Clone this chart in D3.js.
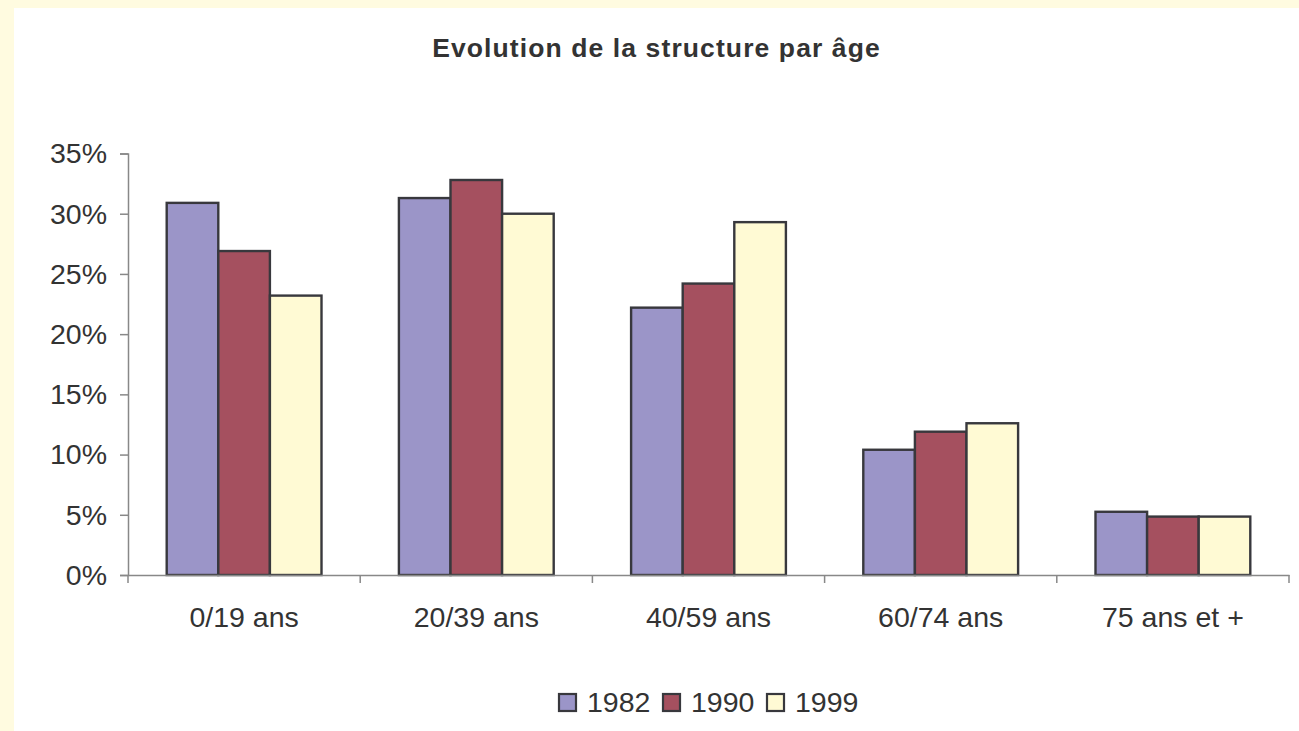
<!DOCTYPE html>
<html><head><meta charset="utf-8">
<script src="https://cdn.jsdelivr.net/npm/d3@7"></script>
<style>
html,body{margin:0;padding:0;background:#fffbe0;}
svg{display:block;}
</style></head><body>
<script>
const categories = ["0/19 ans", "20/39 ans", "40/59 ans", "60/74 ans", "75 ans et +"];
const seriesNames = ["1982", "1990", "1999"];
const values1982 = [30.9, 31.3, 22.2, 10.4, 5.25];
const values1990 = [26.9, 32.8, 24.2, 11.9, 4.85];
const values1999 = [23.2, 30.0, 29.3, 12.6, 4.85];
const yTicks = [0, 5, 10, 15, 20, 25, 30, 35];
const colors = ["#9b95c8", "#a5505f", "#fffad4"];

const W = 1299, H = 731;
const svg = d3.select("body").append("svg").attr("width", W).attr("height", H);
svg.append("rect").attr("x", 0).attr("y", 0).attr("width", W).attr("height", H).attr("fill", "#fffbe0");
svg.append("rect").attr("x", 14).attr("y", 8).attr("width", W - 14).attr("height", H - 8).attr("fill", "#ffffff");

const m = {left: 128, right: 1289, top: 153.5, bottom: 575};
const x = d3.scaleBand().domain(categories).range([m.left, m.right]).paddingInner(0).paddingOuter(0);
const y = d3.scaleLinear().domain([0, 35]).range([m.bottom, m.top]);
const series = [values1982, values1990, values1999];
const x1 = d3.scaleBand().domain(seriesNames).range([0, x.bandwidth()]).paddingInner(0).paddingOuter(0.75);

const font = "'Liberation Sans', Arial, sans-serif";
const txt = "#333333";
const fs = 28.5;

// title
svg.append("text").attr("x", 656.5).attr("y", 57).attr("text-anchor", "middle")
  .attr("font-family", font).attr("font-weight", "bold").attr("font-size", 26.5).attr("letter-spacing", 1.1)
  .attr("fill", txt).text("Evolution de la structure par âge");

// bars
seriesNames.forEach((s, i) => {
  svg.append("g").selectAll("rect").data(categories).join("rect")
    .attr("x", c => x(c) + x1(s))
    .attr("y", (c, j) => y(series[i][j]))
    .attr("width", x1.bandwidth())
    .attr("height", (c, j) => y(0) - y(series[i][j]))
    .attr("fill", colors[i]).attr("stroke", "#38383d").attr("stroke-width", 2.4);
});

// y axis
const yAxis = svg.append("g").attr("transform", `translate(${m.left},0)`)
  .call(d3.axisLeft(y).tickValues(yTicks).tickFormat(d => d + "%").tickSize(8).tickPadding(13));
yAxis.select(".domain").attr("stroke", "#888").attr("stroke-width", 1.5);
yAxis.selectAll(".tick line").attr("stroke", "#888").attr("stroke-width", 1.5);
yAxis.selectAll("text").attr("font-family", font).attr("font-size", fs).attr("fill", txt).attr("dy", "0.33em");

// x axis
const xAxis = svg.append("g").attr("transform", `translate(0,${m.bottom})`)
  .call(d3.axisBottom(x).tickSize(0).tickPadding(0));
xAxis.select(".domain").attr("stroke", "#888").attr("stroke-width", 1.5);
xAxis.selectAll("text").attr("font-family", font).attr("font-size", fs).attr("fill", txt)
  .attr("y", 52).attr("dy", 0);
const bounds = [m.left].concat(categories.map(c => x(c) + x.bandwidth()));
svg.append("g").selectAll("line").data(bounds).join("line")
  .attr("x1", d => d).attr("x2", d => d).attr("y1", m.bottom).attr("y2", m.bottom + 8)
  .attr("stroke", "#888").attr("stroke-width", 1.5);

// legend
const legend = svg.append("g");
seriesNames.forEach((s, i) => {
  const lx = 559 + i * 104;
  legend.append("rect").attr("x", lx).attr("y", 694).attr("width", 17).attr("height", 17)
    .attr("fill", colors[i]).attr("stroke", "#38383d").attr("stroke-width", 2.2);
  legend.append("text").attr("x", lx + 28).attr("y", 712).attr("font-family", font)
    .attr("font-size", fs).attr("fill", txt).text(s);
});
</script>
</body></html>
